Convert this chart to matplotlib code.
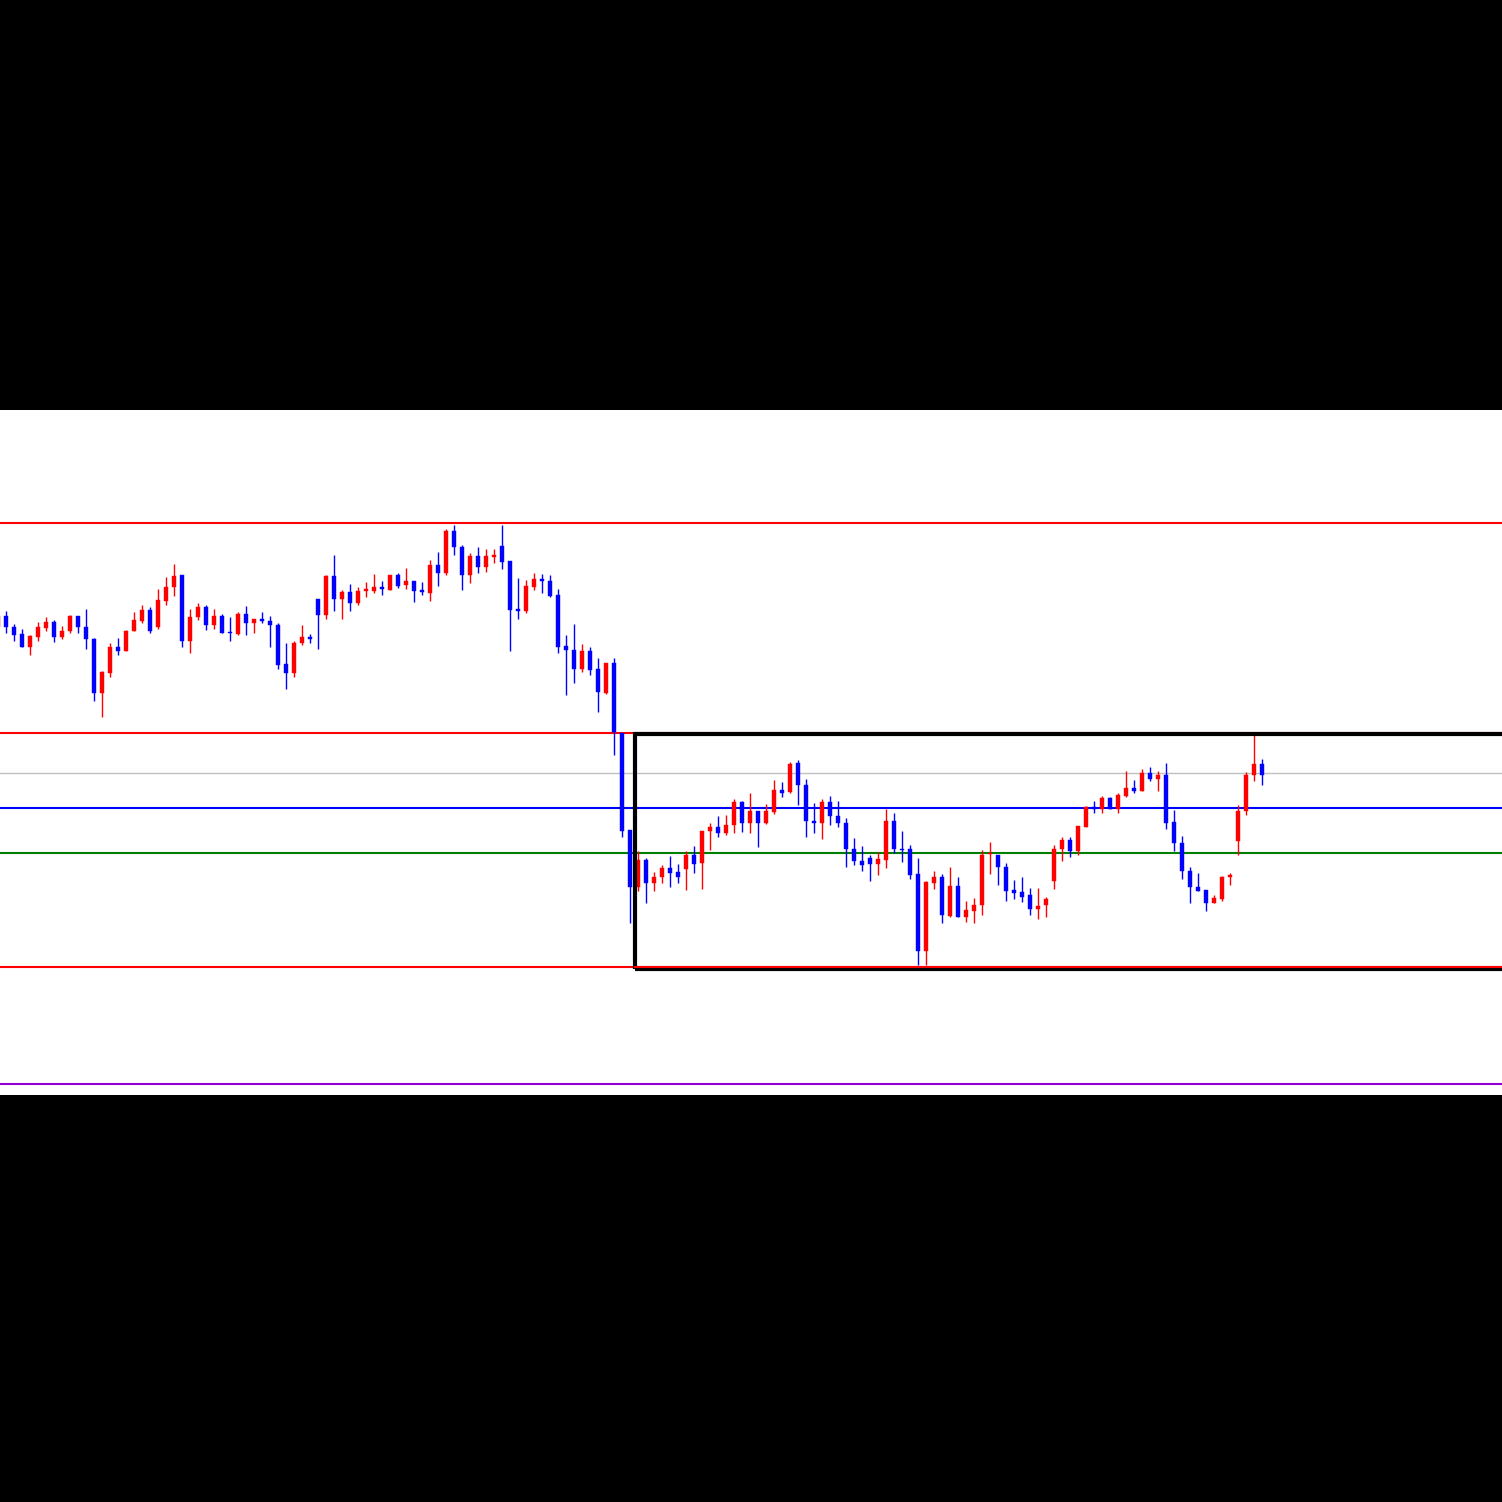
import numpy as np
from matplotlib import pyplot as plt
from matplotlib.patches import Rectangle

# candle data, first bar is cut by the left edge
opens = [468, 479, 468, 461, 448, 458, 467, 473, 458, 464, 479,
         468, 456, 402, 422, 448, 444, 464, 474, 485, 468,
         494, 508, 520, 454, 478, 488, 470, 479, 463, 461,
         481, 472, 476, 474, 470, 431, 422, 452, 458, 496,
         480, 519, 496, 503, 492, 504, 504, 508, 505, 520,
         510, 514, 505, 502, 530, 522, 564, 548, 520, 539,
         528, 538, 549, 534, 486, 484, 508, 516, 514, 500,
         449, 445, 426, 444, 426, 402, 432, 362, 265, 208,
         235, 212, 218, 227, 223, 226, 240, 232, 264, 268,
         262, 270, 293, 272, 284, 272, 283, 305, 303, 332,
         310, 274, 272, 293, 279, 272, 246, 234, 237, 231,
         235, 274, 246, 246, 221, 144, 212, 218, 179, 209,
         178, 184, 190, 241, 240, 228, 205, 203, 200, 186,
         190, 214, 246, 255, 244, 268, 288, 286, 297, 286,
         299, 307, 304, 322, 316, 320, 273, 252, 224, 208,
         205, 192, 196, 218, 254, 284, 320, 331]
highs = [479, 484, 471, 466, 460, 473, 478, 475, 469, 480, 479,
         486, 457, 424, 452, 457, 465, 483, 490, 488, 506,
         518, 531, 520, 486, 492, 490, 486, 481, 478, 483,
         489, 476, 483, 479, 472, 452, 454, 470, 461, 496,
         520, 540, 505, 511, 508, 513, 521, 514, 520, 522,
         527, 514, 513, 535, 543, 566, 570, 550, 542, 548,
         546, 546, 570, 534, 517, 515, 522, 521, 520, 506,
         460, 471, 451, 448, 437, 432, 437, 362, 265, 244,
         237, 223, 230, 239, 231, 244, 249, 264, 272, 279,
         280, 296, 294, 302, 284, 291, 315, 313, 333, 335,
         316, 292, 296, 299, 294, 277, 257, 249, 240, 243,
         286, 282, 264, 250, 237, 214, 224, 221, 228, 218,
         194, 197, 245, 253, 240, 232, 215, 218, 207, 207,
         198, 250, 258, 258, 269, 289, 294, 299, 298, 302,
         324, 315, 326, 328, 324, 332, 285, 259, 228, 222,
         205, 200, 219, 222, 290, 323, 360, 336]
lows = [468, 462, 454, 448, 440, 454, 464, 453, 456, 462, 462,
        446, 394, 378, 418, 440, 444, 464, 472, 462, 466,
        490, 499, 448, 442, 475, 465, 466, 462, 454, 460,
        460, 462, 472, 448, 426, 406, 418, 450, 452, 446,
        476, 484, 476, 484, 490, 498, 502, 500, 505, 507,
        506, 493, 500, 494, 509, 520, 540, 505, 512, 522,
        523, 532, 526, 444, 476, 482, 505, 502, 498, 442,
        400, 412, 423, 420, 383, 401, 340, 258, 172, 204,
        192, 204, 212, 208, 212, 205, 222, 206, 245, 258,
        260, 262, 263, 262, 248, 271, 281, 298, 302, 290,
        258, 262, 256, 270, 268, 228, 230, 224, 214, 220,
        227, 242, 233, 216, 130, 130, 206, 172, 178, 178,
        173, 172, 180, 221, 210, 194, 196, 193, 180, 176,
        178, 206, 234, 238, 240, 268, 282, 282, 286, 282,
        298, 302, 304, 314, 304, 266, 244, 216, 192, 204,
        184, 192, 194, 210, 240, 280, 314, 310]
closes = [479, 468, 460, 448, 459, 468, 473, 458, 464, 479, 468,
          456, 402, 423, 448, 444, 464, 475, 485, 464, 495,
          508, 519, 454, 478, 488, 470, 479, 462, 462, 481,
          472, 476, 474, 470, 430, 422, 452, 458, 456, 480,
          519, 496, 503, 492, 504, 506, 508, 506, 520, 509,
          514, 504, 503, 530, 522, 564, 548, 520, 539, 528,
          539, 540, 533, 485, 484, 509, 516, 514, 499, 448,
          445, 426, 444, 425, 403, 432, 363, 264, 208, 235,
          212, 218, 227, 222, 218, 240, 231, 264, 268, 262,
          270, 293, 272, 284, 272, 284, 305, 302, 331, 310,
          274, 272, 293, 279, 272, 246, 234, 230, 231, 236,
          274, 246, 245, 220, 144, 213, 218, 180, 209, 178,
          185, 190, 240, 242, 228, 204, 202, 198, 186, 189,
          196, 246, 255, 244, 269, 288, 286, 297, 286, 300,
          307, 304, 322, 316, 320, 272, 252, 224, 208, 204,
          192, 197, 218, 220, 284, 320, 331, 320]

# horizontal levels
red_levels = [572, 362.3, 128.5]
gray_level = 322
blue_level = 287
green_level = 242
purple_level = 11.5

# range box
box_left = 78.6
box_bottom = 126
box_top = 361.5

x = np.arange(len(opens)) - 1
o = np.array(opens)
h = np.array(highs)
l = np.array(lows)
c = np.array(closes)
up = c >= o
colors = np.where(up, '#ff0000', '#0000ff')

fig = plt.figure(figsize=(15.02, 15.02), dpi=100, facecolor='black')
ax = fig.add_axes([0, 407 / 1502, 1, 685 / 1502])
ax.set_facecolor('white')

for lev in red_levels:
    ax.axhline(lev, color='#ff0000', lw=1.5, zorder=1)
ax.axhline(gray_level, color='#c0c0c0', lw=1.0, zorder=1)
ax.axhline(blue_level, color='#0000ff', lw=1.5, zorder=1)
ax.axhline(green_level, color='#008000', lw=1.5, zorder=1)
ax.axhline(purple_level, color='#9400d3', lw=1.5, zorder=1)

ax.vlines(x, l, h, colors=colors, lw=1.0, zorder=2)
body = np.maximum(np.abs(c - o), 1.2)
ax.bar(x, body, bottom=np.minimum(o, c), width=0.58, color=colors,
       edgecolor=colors, lw=0.3, zorder=2)

ax.add_patch(Rectangle((box_left, box_bottom), 200, box_top - box_bottom,
                       fill=False, edgecolor='black', lw=3.0, zorder=3))
# bottom red level stays visible over the box edge
ax.axhline(red_levels[-1], xmin=(box_left + 0.75) / 187.75, color='#ff0000', lw=1.5, zorder=4)

ax.set_xlim(-0.75, 187)
ax.set_ylim(0, 685)
ax.set_xticks([])
ax.set_yticks([])
for s in ax.spines.values():
    s.set_visible(False)

fig.savefig('out.png', dpi=100, facecolor='black')
